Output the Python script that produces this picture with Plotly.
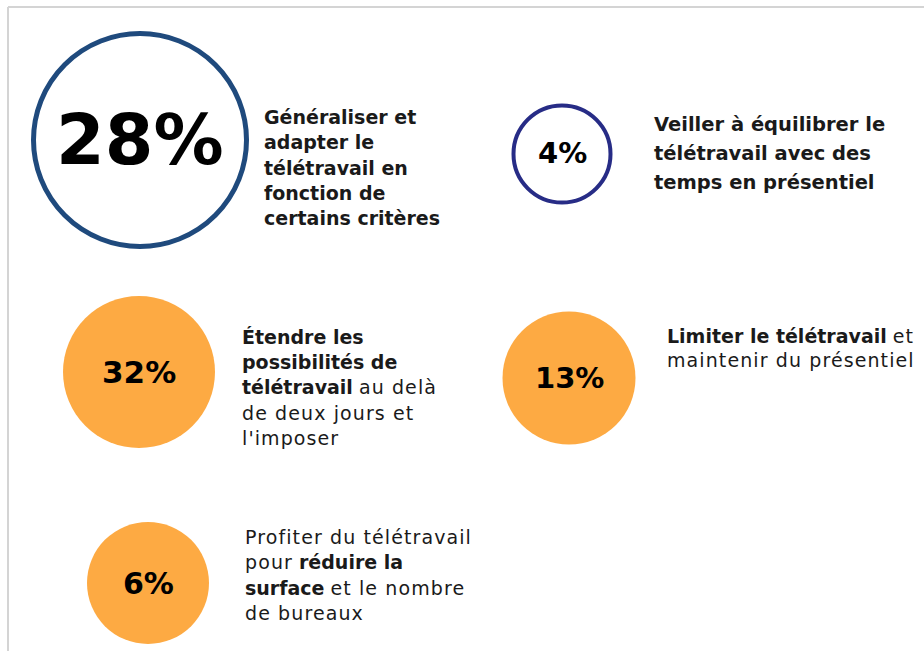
import plotly.graph_objects as go

# ---- data ----
values = [28, 4, 32, 13, 6]
value_labels = [f"{v}%" for v in values]
# (bold?, text) runs per line
label_lines = [
    [[(1, "Généraliser et")], [(1, "adapter le")], [(1, "télétravail en")], [(1, "fonction de")], [(1, "certains critères")]],
    [[(1, "Veiller à équilibrer le")], [(1, "télétravail avec des")], [(1, "temps en présentiel")]],
    [[(1, "Étendre les")], [(1, "possibilités de")], [(1, "télétravail"), (0, "au delà")], [(0, "de deux jours et")], [(0, "l'imposer")]],
    [[(1, "Limiter le télétravail"), (0, "et")], [(0, "maintenir du présentiel")]],
    [[(0, "Profiter du télétravail")], [(0, "pour"), (1, "réduire la")], [(1, "surface"), (0, "et le nombre")], [(0, "de bureaux")]],
]

# ---- layout / style (pixel space) ----
W, H = 924, 651
cx = [140, 562, 139, 569, 148]
cy = [140, 154, 372, 378, 583]
diam = [213, 97, 152, 133, 122]
fill = ["white", "white", "#FDAA43", "#FDAA43", "#FDAA43"]
edge = ["#1F4A7D", "#272C86", "#FDAA43", "#FDAA43", "#FDAA43"]
edge_w = [5, 4, 0, 0, 0]
pct_size = [70, 29, 31, 29, 30]
pct_shift = [0, 1, 0, 0, 0]
lab_x = [262, 652, 240, 665, 243]
lab_y0 = [117, 124, 337, 336, 537]
lab_dy = [25.3, 29, 25.2, 24, 25.3]
lab_size = [19, 19.5, 19, 19, 19]
FONT = "DejaVu Sans"


def fmt(runs):
    parts = []
    for bold, txt in runs:
        if bold:
            parts.append(f"<b>{txt}</b>")
        else:
            parts.append(f'<span style="letter-spacing:1.1px">{txt}</span>')
    return " ".join(parts)


fig = go.Figure()
fig.add_trace(go.Scatter(
    x=cx, y=cy, mode="markers",
    marker=dict(size=diam, color=fill, line=dict(color=edge, width=edge_w), opacity=1),
    hoverinfo="skip", showlegend=False,
))

for i, t in enumerate(value_labels):
    fig.add_annotation(
        x=cx[i], y=cy[i], xref="x", yref="y", text=f"<b>{t}</b>",
        showarrow=False, xanchor="center", yanchor="middle", yshift=pct_shift[i],
        font=dict(family=FONT, size=pct_size[i], color="#000000"),
    )

for i, lines in enumerate(label_lines):
    for j, ln in enumerate(lines):
        fig.add_annotation(
            x=lab_x[i], y=lab_y0[i] + j * lab_dy[i], xref="x", yref="y",
            text=fmt(ln), showarrow=False, xanchor="left", yanchor="middle",
            font=dict(family=FONT, size=lab_size[i], color="#1a1a1a"),
        )

# frame lines
fig.add_shape(type="line", x0=8, x1=W, y0=7, y1=7, xref="x", yref="y",
              line=dict(color="#d4d4d4", width=2))
fig.add_shape(type="line", x0=8, x1=8, y0=7, y1=H, xref="x", yref="y",
              line=dict(color="#d4d4d4", width=2))

fig.update_xaxes(range=[0, W], visible=False, fixedrange=True)
fig.update_yaxes(range=[H, 0], visible=False, fixedrange=True)
fig.update_layout(width=W, height=H, margin=dict(l=0, r=0, t=0, b=0),
                  paper_bgcolor="white", plot_bgcolor="white", hovermode=False)
fig.write_html("out.html", config={"displayModeBar": False},
               post_script="document.body.style.margin='0';document.body.style.overflow='hidden';")
